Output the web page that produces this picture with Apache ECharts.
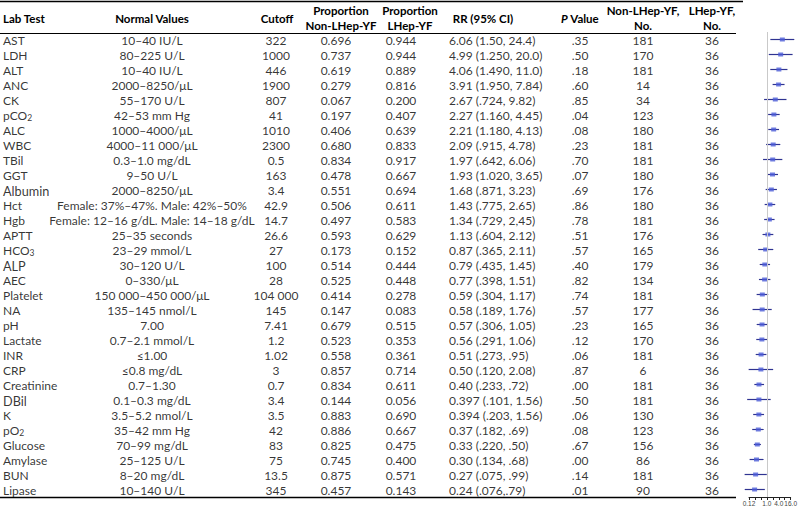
<!DOCTYPE html>
<html><head><meta charset="utf-8">
<script src="https://cdn.jsdelivr.net/npm/echarts@6/dist/echarts.min.js"></script>
<style>html,body{margin:0;padding:0;background:#fff}#c{width:800px;height:513px}</style>
</head><body><div id="c"></div>
<script>
// ---------------- data ----------------
const labTests = ['AST','LDH','ALT','ANC','CK','pCO₂','ALC','WBC','TBil','GGT','Albumin','Hct','Hgb','APTT','HCO₃','ALP','AEC','Platelet','NA','pH','Lactate','INR','CRP','Creatinine','DBil','K','pO₂','Glucose','Amylase','BUN','Lipase'];
const normalValues = ['10–40 IU/L','80–225 U/L','10–40 IU/L','2000–8250/μL','55–170 U/L','42–53 mm Hg','1000–4000/μL','4000–11 000/μL','0.3–1.0 mg/dL','9–50 U/L','2000–8250/μL','Female: 37%–47%. Male: 42%–50%','Female: 12–16 g/dL. Male: 14–18 g/dL','25–35 seconds','23–29 mmol/L','30–120 U/L','0–330/μL','150 000–450 000/μL','135–145 nmol/L','7.00','0.7–2.1 mmol/L','≤1.00','≤0.8 mg/dL','0.7–1.30','0.1–0.3 mg/dL','3.5–5.2 nmol/L','35–42 mm Hg','70–99 mg/dL','25–125 U/L','8–20 mg/dL','10–140 U/L'];
const cutoffs = ['322','1000','446','1900','807','41','1010','2300','0.5','163','3.4','42.9','14.7','26.6','27','100','28','104 000','145','7.41','1.2','1.02','3','0.7','3.4','3.5','42','83','75','13.5','345'];
const propNonLHep = ['0.696','0.737','0.619','0.279','0.067','0.197','0.406','0.680','0.834','0.478','0.551','0.506','0.497','0.593','0.173','0.514','0.525','0.414','0.147','0.679','0.523','0.558','0.857','0.834','0.144','0.883','0.886','0.825','0.745','0.875','0.457'];
const propLHep = ['0.944','0.944','0.889','0.816','0.200','0.407','0.639','0.833','0.917','0.667','0.694','0.611','0.583','0.629','0.152','0.444','0.448','0.278','0.083','0.515','0.353','0.361','0.714','0.611','0.056','0.690','0.667','0.475','0.400','0.571','0.143'];
const rrText = ['6.06 (1.50, 24.4)','4.99 (1.250, 20.0)','4.06 (1.490, 11.0)','3.91 (1.950, 7.84)','2.67 (.724, 9.82)','2.27 (1.160, 4.45)','2.21 (1.180, 4.13)','2.09 (.915, 4.78)','1.97 (.642, 6.06)','1.93 (1.020, 3.65)','1.68 (.871, 3.23)','1.43 (.775, 2.65)','1.34 (.729, 2,45)','1.13 (.604, 2.12)','0.87 (.365, 2.11)','0.79 (.435, 1.45)','0.77 (.398, 1.51)','0.59 (.304, 1.17)','0.58 (.189, 1.76)','0.57 (.306, 1.05)','0.56 (.291, 1.06)','0.51 (.273, .95)','0.50 (.120, 2.08)','0.40 (.233, .72)','0.397 (.101, 1.56)','0.394 (.203, 1.56)','0.37 (.182, .69)','0.33 (.220, .50)','0.30 (.134, .68)','0.27 (.075, .99)','0.24 (.076,.79)'];
const pValues = ['.35','.50','.18','.60','.85','.04','.08','.23','.70','.07','.69','.86','.78','.51','.57','.40','.82','.74','.57','.23','.12','.06','.87','.00','.50','.06','.08','.67','.00','.14','.01'];
const nonLHepN = [181,170,181,14,34,123,180,181,181,180,176,180,181,176,165,179,134,181,177,165,170,181,6,181,181,130,123,156,86,181,90];
const lHepN = [36,36,36,36,36,36,36,36,36,36,36,36,36,36,36,36,36,36,36,36,36,36,36,36,36,36,36,36,36,36,36];
// forest plot values (RR and 95% CI)
const rr     = [6.06,4.99,4.06,3.91,2.67,2.27,2.21,2.09,1.97,1.93,1.68,1.43,1.34,1.13,0.87,0.79,0.77,0.59,0.58,0.57,0.56,0.51,0.50,0.40,0.397,0.394,0.37,0.33,0.30,0.27,0.24];
const ciLow  = [1.50,1.25,1.49,1.95,0.724,1.16,1.18,0.915,0.642,1.02,0.871,0.775,0.729,0.604,0.365,0.435,0.398,0.304,0.189,0.306,0.291,0.273,0.120,0.233,0.101,0.203,0.182,0.220,0.134,0.075,0.076];
const ciHigh = [24.4,20.0,11.0,7.84,9.82,4.45,4.13,4.78,6.06,3.65,3.23,2.65,2.45,2.12,2.11,1.45,1.51,1.17,1.76,1.05,1.06,0.95,2.08,0.72,1.56,0.72,0.69,0.50,0.68,0.99,0.79];
const tickValues = [0.125, 1, 4, 16];
const tickLabels = ['0.12', '1.0', '4.0', '16.0'];

// ---------------- chart ----------------
const FONT = 'Lato';
const FS = 12;
const HFS = 11.5;
const larger = ['Albumin','ALP','DBil'];
const subMap = {'₂':'2','₃':'3'};
function fmtText(s){
  return String(s).replace(/[₂₃]/g, c => '{sub|' + subMap[c] + '}');
}
function textSeries(values, x, align){
  return {
    type: 'scatter', xAxisIndex: 0, yAxisIndex: 0, silent: true,
    symbolSize: 0.1, itemStyle: {color: 'transparent'},
    data: values.map((v, i) => {
      const item = {name: String(v), value: [x, i]};
      if (larger.indexOf(String(v)) >= 0) item.label = {fontSize: 12.7};
      return item;
    }),
    label: {
      show: true, position: 'inside', align: align, verticalAlign: 'middle',
      fontFamily: FONT, fontSize: FS, color: '#000', lineHeight: 14,
      formatter: p => fmtText(p.name),
      rich: {sub: {fontFamily: FONT, fontSize: 8.5, lineHeight: 8, verticalAlign: 'bottom', color: '#000'}}
    }
  };
}
const cols = [
  {vals: labTests, x: 3, align: 'left'},
  {vals: normalValues, x: 152, align: 'center'},
  {vals: cutoffs, x: 276, align: 'center'},
  {vals: propNonLHep, x: 336, align: 'center'},
  {vals: propLHep, x: 401, align: 'center'},
  {vals: rrText, x: 449, align: 'left'},
  {vals: pValues, x: 580, align: 'center'},
  {vals: nonLHepN, x: 643, align: 'center'},
  {vals: lHepN, x: 712, align: 'center'}
];
const headers = [
  {t: 'Lab Test', x: 3, align: 'left'},
  {t: 'Normal Values', x: 152, align: 'center'},
  {t: 'Cutoff', x: 277, align: 'center'},
  {t: 'Proportion\nNon-LHep-YF', x: 341, align: 'center'},
  {t: 'Proportion\nLHep-YF', x: 410, align: 'center'},
  {t: 'RR (95% CI)', x: 483, align: 'center'},
  {t: '{i|P} Value', x: 580, align: 'center'},
  {t: 'Non-LHep-YF,\nNo.', x: 643, align: 'center'},
  {t: 'LHep-YF,\nNo.', x: 712, align: 'center'}
];

const chart = echarts.init(document.getElementById('c'), null, {renderer: 'svg'});
const tickLabelOf = v => {
  for (let k = 0; k < tickValues.length; k++) {
    if (Math.abs(Math.log2(v) - Math.log2(tickValues[k])) < 1e-6) return tickLabels[k];
  }
  return '';
};
chart.setOption({
  animation: false,
  backgroundColor: '#fff',
  grid: [
    {left: 0, right: 0, top: 33, bottom: 15},
    {left: 749, width: 42, top: 32, bottom: 16}
  ],
  xAxis: [
    {gridIndex: 0, type: 'value', min: 0, max: 800, show: false},
    {gridIndex: 1, type: 'log', logBase: 2, min: 0.125, max: 16, splitNumber: 7,
     axisLine: {show: true, lineStyle: {color: '#222', width: 1}},
     axisTick: {show: true, length: 3, lineStyle: {color: '#222'}},
     splitLine: {show: false},
     axisLabel: {fontFamily: 'Liberation Sans', fontSize: 6.5, color: '#444', margin: 3, formatter: tickLabelOf, hideOverlap: false}}
  ],
  yAxis: [
    {gridIndex: 0, type: 'category', data: labTests, inverse: true, show: false},
    {gridIndex: 1, type: 'category', data: labTests, inverse: true, show: false}
  ],
  graphic: [
    {type: 'line', shape: {x1: 0, y1: 1.5, x2: 743, y2: 1.5}, style: {stroke: '#000', lineWidth: 1.3}},
    {type: 'line', shape: {x1: 0, y1: 33.5, x2: 736, y2: 33.5}, style: {stroke: '#000', lineWidth: 1}},
    {type: 'line', shape: {x1: 0, y1: 497.5, x2: 736, y2: 497.5}, style: {stroke: '#000', lineWidth: 1.4}}
  ].concat(headers.map(h => ({
    type: 'text', x: h.x, y: 18,
    style: {text: h.t, align: h.align, verticalAlign: 'middle', fontFamily: FONT, fontWeight: 'bold',
      fontSize: HFS, lineHeight: 15, fill: '#000',
      rich: {i: {fontStyle: 'italic', fontWeight: 'bold', fontFamily: FONT, fontSize: HFS}}}
  }))),
  series: cols.map(c => textSeries(c.vals, c.x, c.align)).concat([
    {
      type: 'custom', xAxisIndex: 1, yAxisIndex: 1, silent: true,
      data: ciLow.map((lo, i) => [lo, ciHigh[i], i]),
      encode: {x: [0, 1], y: 2},
      renderItem: (params, api) => {
        const a = api.coord([api.value(0), api.value(2)]);
        const b = api.coord([api.value(1), api.value(2)]);
        return {type: 'line', shape: {x1: a[0], y1: a[1], x2: b[0], y2: b[1]},
          style: {stroke: '#2f3391', lineWidth: 1.2}};
      }
    },
    {
      type: 'scatter', xAxisIndex: 1, yAxisIndex: 1, silent: true,
      symbol: 'rect', symbolSize: [5, 4],
      itemStyle: {color: '#4c5cd8'},
      data: rr.map((v, i) => [v, i]),
      markLine: {silent: true, symbol: 'none', label: {show: false},
        lineStyle: {color: '#c9c9c9', width: 1, type: 'solid'},
        data: [{xAxis: 1}]},
      z: 3
    }
  ])
});
</script></body></html>
